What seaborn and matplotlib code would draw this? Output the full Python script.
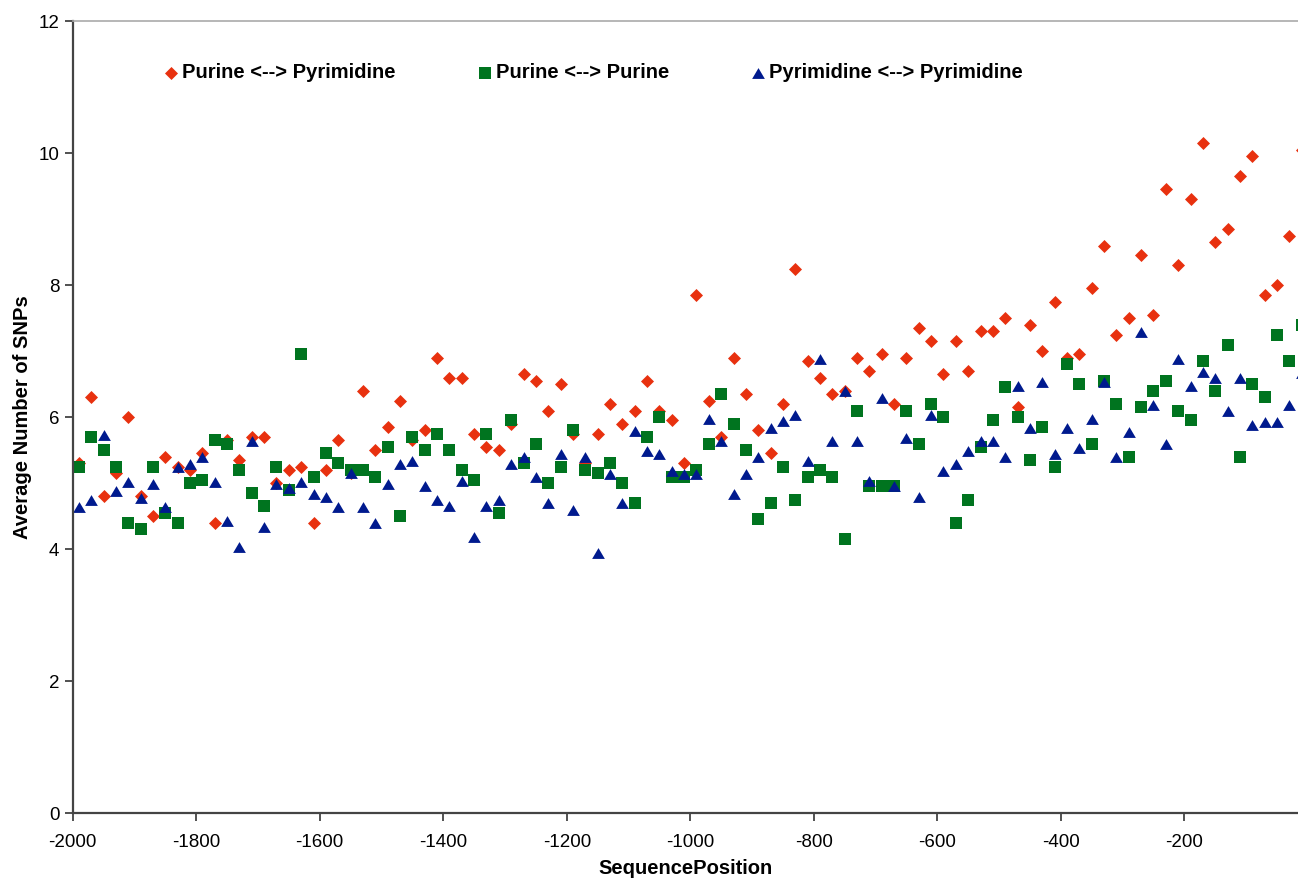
import numpy as np
import pandas as pd
import seaborn as sns
import matplotlib.pyplot as plt

# --- data (bin centres every 20 bp) ---
positions = np.arange(-1990, 0, 20)

purine_pyrimidine = [
    5.30, 6.30, 4.80, 5.15, 6.00, 4.80, 4.50, 5.40, 5.25, 5.20,
    5.45, 4.40, 5.65, 5.35, 5.70, 5.70, 5.00, 5.20, 5.25, 4.40,
    5.20, 5.65, 5.15, 6.40, 5.50, 5.85, 6.25, 5.65, 5.80, 6.90,
    6.60, 6.60, 5.75, 5.55, 5.50, 5.90, 6.65, 6.55, 6.10, 6.50,
    5.75, 5.30, 5.75, 6.20, 5.90, 6.10, 6.55, 6.10, 5.95, 5.30,
    7.85, 6.25, 5.70, 6.90, 6.35, 5.80, 5.45, 6.20, 8.25, 6.85,
    6.60, 6.35, 6.40, 6.90, 6.70, 6.95, 6.20, 6.90, 7.35, 7.15,
    6.65, 7.15, 6.70, 7.30, 7.30, 7.50, 6.15, 7.40, 7.00, 7.75,
    6.90, 6.95, 7.95, 8.60, 7.25, 7.50, 8.45, 7.55, 9.45, 8.30,
    9.30, 10.15, 8.65, 8.85, 9.65, 9.95, 7.85, 8.00, 8.75, 10.05,
]
purine_purine = [
    5.25, 5.70, 5.50, 5.25, 4.40, 4.30, 5.25, 4.55, 4.40, 5.00,
    5.05, 5.65, 5.60, 5.20, 4.85, 4.65, 5.25, 4.90, 6.95, 5.10,
    5.45, 5.30, 5.20, 5.20, 5.10, 5.55, 4.50, 5.70, 5.50, 5.75,
    5.50, 5.20, 5.05, 5.75, 4.55, 5.95, 5.30, 5.60, 5.00, 5.25,
    5.80, 5.20, 5.15, 5.30, 5.00, 4.70, 5.70, 6.00, 5.10, 5.10,
    5.20, 5.60, 6.35, 5.90, 5.50, 4.45, 4.70, 5.25, 4.75, 5.10,
    5.20, 5.10, 4.15, 6.10, 4.95, 4.95, 4.95, 6.10, 5.60, 6.20,
    6.00, 4.40, 4.75, 5.55, 5.95, 6.45, 6.00, 5.35, 5.85, 5.25,
    6.80, 6.50, 5.60, 6.55, 6.20, 5.40, 6.15, 6.40, 6.55, 6.10,
    5.95, 6.85, 6.40, 7.10, 5.40, 6.50, 6.30, 7.25, 6.85, 7.40,
]
pyrimidine_pyrimidine = [
    4.64, 4.74, 5.73, 4.88, 5.02, 4.77, 4.99, 4.64, 5.25, 5.29,
    5.39, 5.02, 4.43, 4.03, 5.64, 4.33, 4.99, 4.92, 5.02, 4.84,
    4.79, 4.64, 5.15, 4.64, 4.39, 4.99, 5.29, 5.34, 4.95, 4.75,
    4.65, 5.04, 4.19, 4.65, 4.75, 5.29, 5.39, 5.09, 4.70, 5.44,
    4.59, 5.39, 3.94, 5.14, 4.70, 5.79, 5.49, 5.44, 5.19, 5.14,
    5.14, 5.98, 5.64, 4.83, 5.14, 5.39, 5.83, 5.94, 6.03, 5.34,
    6.88, 5.64, 6.39, 5.64, 5.04, 6.29, 4.95, 5.69, 4.79, 6.03,
    5.19, 5.29, 5.49, 5.64, 5.64, 5.39, 6.48, 5.83, 6.53, 5.44,
    5.83, 5.53, 5.98, 6.53, 5.39, 5.78, 7.29, 6.19, 5.59, 6.88,
    6.48, 6.69, 6.59, 6.09, 6.59, 5.88, 5.93, 5.93, 6.19, 6.67,
]

series_names = ['Purine <--> Pyrimidine', 'Purine <--> Purine', 'Pyrimidine <--> Pyrimidine']
series_values = [purine_pyrimidine, purine_purine, pyrimidine_pyrimidine]
colors = ['#E8310F', '#00741F', '#001A8E']
# flat triangle like the Excel marker (wider than tall)
triangle = [(0, 0.85), (-1, -0.85), (1, -0.85)]
markers = ['D', 's', triangle]
sizes = [44, 72, 84]

sns.set_style('white')
plt.rcParams['font.family'] = ['Liberation Sans', 'DejaVu Sans']
plt.rcParams['axes.unicode_minus'] = False
plt.rcParams['text.color'] = 'black'
plt.rcParams['axes.labelcolor'] = 'black'

fig = plt.figure(figsize=(12.98, 8.82), dpi=100)
ax = fig.add_axes([0.056, 0.078, 0.944, 0.898])

for name, vals, col, mk, sz in zip(series_names, series_values, colors, markers, sizes):
    df = pd.DataFrame({'pos': positions, 'snps': vals})
    sns.scatterplot(data=df, x='pos', y='snps', color=col, marker=mk, s=sz,
                    linewidth=0, ax=ax, label=name)

ax.set_xlim(-2000, -16)
ax.set_ylim(0, 12)
ax.set_xticks(range(-2000, -199, 200))
ax.set_yticks(range(0, 13, 2))
ax.tick_params(axis='both', direction='out', length=6, width=1.2,
               labelsize=13.5, colors='#333333', labelcolor='black', left=True, bottom=True)
ax.tick_params(axis='x', pad=9)

for side in ['left', 'bottom']:
    ax.spines[side].set_color('#444444')
    ax.spines[side].set_linewidth(1.6)
ax.spines['top'].set_color('#AAAAAA')
ax.spines['top'].set_linewidth(1.2)
ax.spines['right'].set_visible(False)

ax.set_xlabel('SequencePosition', fontsize=14.5, fontweight='bold', labelpad=6)
ax.set_ylabel('Average Number of SNPs', fontsize=14.5, fontweight='bold', labelpad=5)

handles, labels = ax.get_legend_handles_labels()
leg = ax.legend(handles, labels, loc='center left', bbox_to_anchor=(0.06, 0.935),
                ncol=3, frameon=False, handlelength=0.7, handletextpad=0.2,
                columnspacing=4.05, labelcolor='black',
                prop={'weight': 'bold', 'size': 14.5})

plt.savefig('out.png', dpi=100)
